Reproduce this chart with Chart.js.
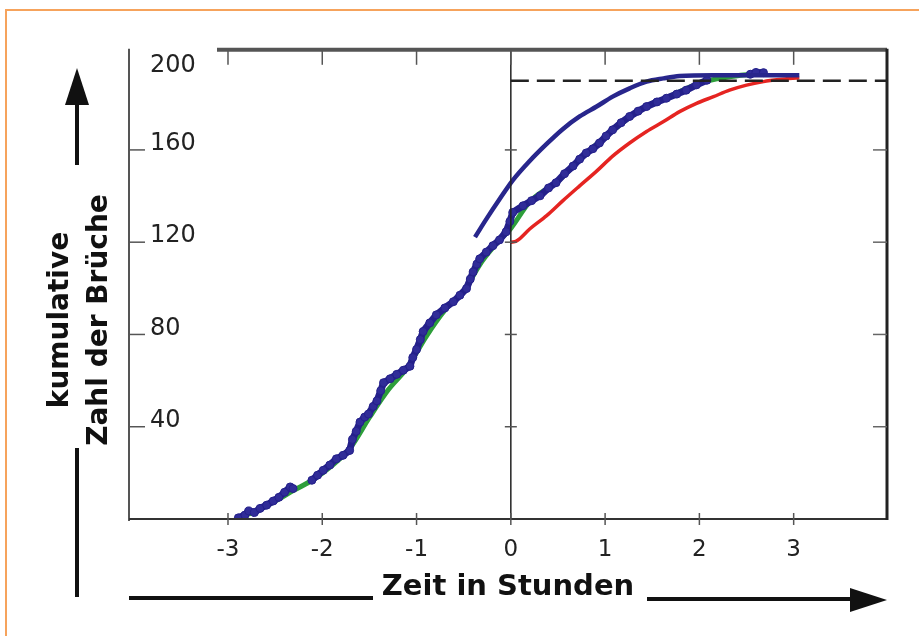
<!DOCTYPE html>
<html>
<head>
<meta charset="utf-8">
<script src="https://cdn.jsdelivr.net/npm/chart.js@4.4.0/dist/chart.umd.min.js"></script>
<style>
  html, body { margin: 0; padding: 0; background: #fff; }
  canvas { display: block; }
</style>
</head>
<body>
<canvas id="c" width="919" height="636"></canvas>
<script>
// x ticks and y ticks (hours / cumulative count)
const xTicks = [-3, -2, -1, 0, 1, 2, 3];
const yTicks = [40, 80, 120, 160, 200];
const plateau = 190;

// observed fractures (null = gap where the fit shows through)
const obsX = [-2.89, -2.82, -2.78, -2.72, -2.66, -2.59, -2.52, -2.46, -2.40, -2.34, -2.31, -2.2,
  -2.11, -2.05, -1.99, -1.92, -1.85, -1.78, -1.71, -1.68, -1.64, -1.60, -1.55, -1.51, -1.46, -1.42,
  -1.38, -1.35, -1.28, -1.21, -1.14, -1.07, -1.04, -1.00, -0.96, -0.93, -0.86, -0.79, -0.70, -0.61,
  -0.54, -0.47, -0.43, -0.40, -0.36, -0.33, -0.26, -0.19, -0.12, -0.05, -0.01, 0.02, 0.13, 0.22,
  0.31, 0.40, 0.48, 0.57, 0.66, 0.73, 0.80, 0.87, 0.94, 1.01, 1.08, 1.17, 1.26, 1.35, 1.44, 1.55,
  1.65, 1.76, 1.86, 1.97, 2.08, 2.3, 2.54, 2.60, 2.68];
const obsY = [0.5, 1.7, 3.5, 2.8, 4.6, 6.0, 7.8, 9.4, 11.6, 13.9, 13.2, null,
  16.8, 19.0, 21.1, 23.4, 26.1, 27.6, 29.7, 34.5, 38.0, 42.0, 44.2, 45.5, 48.8, 51.2,
  55.6, 59.1, 60.8, 62.7, 64.5, 66.2, 70.0, 73.5, 77.8, 81.3, 85.0, 88.5, 91.5, 94.2,
  97.0, 99.9, 104.0, 107.1, 110.5, 112.8, 115.7, 118.5, 121.0, 124.5, 129.0, 132.9, 135.8, 138.0,
  140.1, 143.5, 145.8, 149.7, 153.0, 156.0, 158.7, 160.5, 163.0, 166.0, 168.7, 171.8, 174.5, 176.8, 178.8, 180.8,
  182.4, 184.2, 185.9, 188.2, 190.2, null, 192.8, 193.6, 193.5];

// fitted curve (green)
const fitX = [-2.9, -2.7, -2.5, -2.3, -2.1, -1.9, -1.7, -1.5, -1.3, -1.1, -0.9, -0.7, -0.5, -0.3,
  -0.15, 0, 0.2, 0.5, 0.8, 1.1, 1.4, 1.7, 2.0, 2.3, 2.6];
const fitY = [0.5, 3.5, 7.8, 12.5, 17.0, 23.0, 31.0, 44.0, 56.0, 65.5, 79.0, 90.5, 99.0, 112.0,
  119.5, 126.0, 137.5, 146.5, 158.5, 169.0, 178.0, 183.5, 189.0, 191.6, 193.0];

// upper model curve (blue)
const upX = [-0.38, -0.26, -0.12, 0.02, 0.20, 0.38, 0.55, 0.73, 0.91, 1.08, 1.26, 1.44, 1.62, 1.79, 2.15, 2.6, 3.06];
const upY = [122.2, 130.0, 138.6, 146.8, 155.2, 162.6, 169.0, 174.5, 178.8, 183.1, 186.7, 189.6, 191.0, 192.0, 192.4, 192.4, 192.4];

// lower model curve (red)
const redX = [0.0, 0.06, 0.20, 0.38, 0.55, 0.73, 0.91, 1.08, 1.26, 1.44, 1.62, 1.79, 1.97, 2.15, 2.32, 2.50, 2.68, 2.85, 3.06];
const redY = [120.0, 120.5, 125.7, 131.5, 137.9, 144.4, 150.8, 157.3, 163.0, 168.0, 172.3, 176.6, 180.2, 183.1, 185.9, 188.1, 189.6, 190.5, 191.3];

const pts = (xs, ys) => xs.map((x, i) => ({x: x, y: ys[i]}));

const navy = '#24208a';

const frame = {
  id: 'frame',
  afterDraw(chart){
    const ctx = chart.ctx;
    const xs = chart.scales.x, ys = chart.scales.y;
    const a = chart.chartArea;
    const X = v => xs.getPixelForValue(v);
    const Y = v => ys.getPixelForValue(v);
    const line = (x1, y1, x2, y2, w, c) => {
      ctx.beginPath();
      ctx.lineWidth = w;
      ctx.strokeStyle = c;
      ctx.moveTo(x1, y1);
      ctx.lineTo(x2, y2);
      ctx.stroke();
    };
    ctx.save();
    ctx.lineCap = 'butt';

    // orange page frame
    ctx.strokeStyle = '#f6a35c';
    ctx.lineWidth = 2;
    ctx.strokeRect(6, 10, 940, 660);

    // zero line and plateau
    line(X(0), a.top, X(0), a.bottom, 1.5, '#222');
    ctx.setLineDash([18, 8]);
    line(X(0), Y(plateau), a.right, Y(plateau), 2.5, '#222');
    ctx.setLineDash([]);

    // box
    line(a.left, a.top - 1, a.left, a.bottom + 2, 2, '#555');
    line(a.left, a.bottom, a.right, a.bottom, 2, '#333');
    line(217, a.top, a.right, a.top, 4, '#555');
    line(a.right, a.top - 1, a.right, a.bottom + 1, 3, '#222');

    // tick marks
    xTicks.forEach(v => {
      line(X(v), a.bottom - 6, X(v), a.bottom + 6, 1.5, '#555');
      line(X(v), a.top, X(v), a.top + 15, 1.5, '#555');
    });
    yTicks.forEach(v => {
      if(v >= 200) return;
      line(a.left, Y(v), a.left + 16, Y(v), 1.5, '#555');
      line(a.right - 14, Y(v), a.right, Y(v), 1.5, '#666');
      line(X(0) - 6, Y(v), X(0) + 6, Y(v), 1.5, '#555');
    });

    // arrows
    ctx.fillStyle = '#111';
    line(129, 598, 373, 598, 4, '#111');
    line(647, 599, 855, 599, 4, '#111');
    ctx.beginPath();
    ctx.moveTo(887, 600); ctx.lineTo(850, 588); ctx.lineTo(850, 612); ctx.closePath(); ctx.fill();

    line(77, 165, 77, 100, 4, '#111');
    ctx.beginPath();
    ctx.moveTo(77, 68); ctx.lineTo(65, 105); ctx.lineTo(89, 105); ctx.closePath(); ctx.fill();
    line(77, 448, 77, 597, 4, '#111');

    // y title
    ctx.translate(0, 320);
    ctx.rotate(-Math.PI / 2);
    ctx.font = 'bold 28px "DejaVu Sans"';
    ctx.textAlign = 'center';
    ctx.textBaseline = 'alphabetic';
    ctx.fillStyle = '#111';
    ctx.fillText('kumulative', 0, 68);
    ctx.fillText('Zahl der Brüche', 0, 107);
    ctx.restore();
  }
};

new Chart(document.getElementById('c'), {
  type: 'scatter',
  data: {
    datasets: [
      {data: pts(upX, upY), showLine: true, borderColor: '#28268c', borderWidth: 4.5, pointRadius: 0,
        tension: 0.4, cubicInterpolationMode: 'monotone'},
      {data: pts(obsX, obsY), showLine: true, spanGaps: false, borderColor: navy, borderWidth: 7,
        pointRadius: 4, pointBorderWidth: 1, pointBorderColor: navy, pointBackgroundColor: '#302c98',
        borderJoinStyle: 'round', borderCapStyle: 'round', tension: 0},
      {data: pts(redX, redY), showLine: true, borderColor: '#e52421', borderWidth: 3.5, pointRadius: 0,
        tension: 0.4, cubicInterpolationMode: 'monotone'},
      {data: pts(fitX, fitY), showLine: true, borderColor: '#2d9e3a', borderWidth: 5, pointRadius: 0,
        tension: 0.4, cubicInterpolationMode: 'monotone'}
    ]
  },
  options: {
    responsive: false,
    animation: false,
    devicePixelRatio: 1,
    layout: {padding: {top: 47, right: 32, left: 0, bottom: 0}},
    plugins: {legend: {display: false}, tooltip: {enabled: false}},
    scales: {
      x: {
        type: 'linear', position: 'bottom', min: -4.05, max: 3.99,
        afterBuildTicks: s => { s.ticks = xTicks.map(v => ({value: v})); },
        afterFit: s => { s.height = 117; },
        grid: {display: false, drawTicks: false},
        border: {display: false},
        ticks: {padding: 17, color: '#222', font: {family: '"DejaVu Sans"', size: 23}},
        title: {display: true, text: 'Zeit in Stunden', color: '#111',
          font: {family: '"DejaVu Sans"', size: 29, weight: 'bold'}, padding: {top: 0, bottom: 31}}
      },
      y: {
        type: 'linear', position: 'left', min: 0, max: 203.4,
        afterBuildTicks: s => { s.ticks = yTicks.map(v => ({value: v})); },
        afterFit: s => { s.width = 129; },
        grid: {display: false, drawTicks: false},
        border: {display: false},
        ticks: {mirror: true, padding: 21, labelOffset: -6, color: '#222',
          font: {family: '"DejaVu Sans"', size: 24},
          callback: v => v === 200 ? ['', '200'] : String(v)}
      }
    }
  },
  plugins: [frame]
});
</script>
</body>
</html>
